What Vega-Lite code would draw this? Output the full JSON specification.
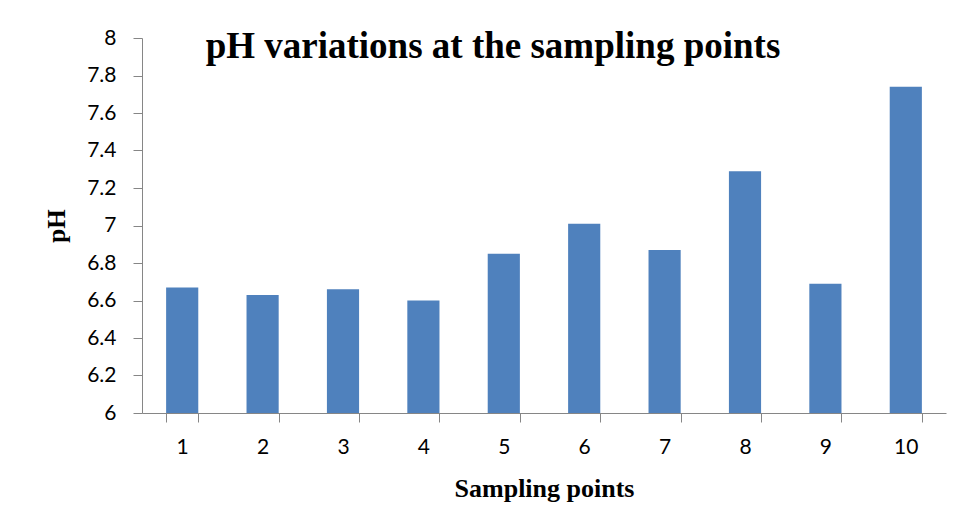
{
  "$schema": "https://vega.github.io/schema/vega-lite/v6.json",
  "autosize": "none",
  "width": 804,
  "height": 375,
  "padding": {"left": 142, "top": 38, "right": 20, "bottom": 113},
  "background": "white",
  "data": {
    "values": [
      {"point": "1", "pH": 6.67},
      {"point": "2", "pH": 6.63},
      {"point": "3", "pH": 6.66},
      {"point": "4", "pH": 6.60},
      {"point": "5", "pH": 6.85},
      {"point": "6", "pH": 7.01},
      {"point": "7", "pH": 6.87},
      {"point": "8", "pH": 7.29},
      {"point": "9", "pH": 6.69},
      {"point": "10", "pH": 7.74}
    ]
  },
  "title": {
    "text": "pH variations at the sampling points",
    "font": "Liberation Serif",
    "fontSize": 37,
    "fontWeight": "bold",
    "color": "black",
    "anchor": "middle",
    "frame": "group",
    "dx": -51,
    "dy": 43,
    "baseline": "alphabetic",
    "offset": -25
  },
  "mark": {"type": "bar", "color": "#4F81BD", "clip": true},
  "encoding": {
    "x": {
      "field": "point",
      "type": "ordinal",
      "sort": null,
      "scale": {"paddingInner": 0.6, "paddingOuter": 0.3},
      "axis": {
        "title": "Sampling points",
        "titleFont": "Liberation Serif",
        "titleFontSize": 26,
        "titleFontWeight": "bold",
        "titleColor": "black",
        "titlePadding": 18,
        "labelAngle": 0,
        "labelFont": "Lato",
        "labelFontSize": 21,
        "labelColor": "black",
        "labelPadding": 14,
        "tickBand": "extent",
        "tickSize": 9,
        "tickColor": "#868686",
        "domainColor": "#868686",
        "grid": false
      }
    },
    "y": {
      "field": "pH",
      "type": "quantitative",
      "scale": {"domain": [6, 8], "zero": false, "nice": false},
      "axis": {
        "title": "pH",
        "titleFont": "Liberation Serif",
        "titleFontSize": 25,
        "titleFontWeight": "bold",
        "titleColor": "black",
        "titlePadding": 17,
        "values": [6, 6.2, 6.4, 6.6, 6.8, 7, 7.2, 7.4, 7.6, 7.8, 8],
        "format": "~g",
        "labelFont": "Lato",
        "labelFontSize": 21,
        "labelColor": "black",
        "labelPadding": 17,
        "tickSize": 9,
        "tickColor": "#868686",
        "domainColor": "#868686",
        "grid": false
      }
    }
  },
  "config": {"view": {"stroke": null}}
}
